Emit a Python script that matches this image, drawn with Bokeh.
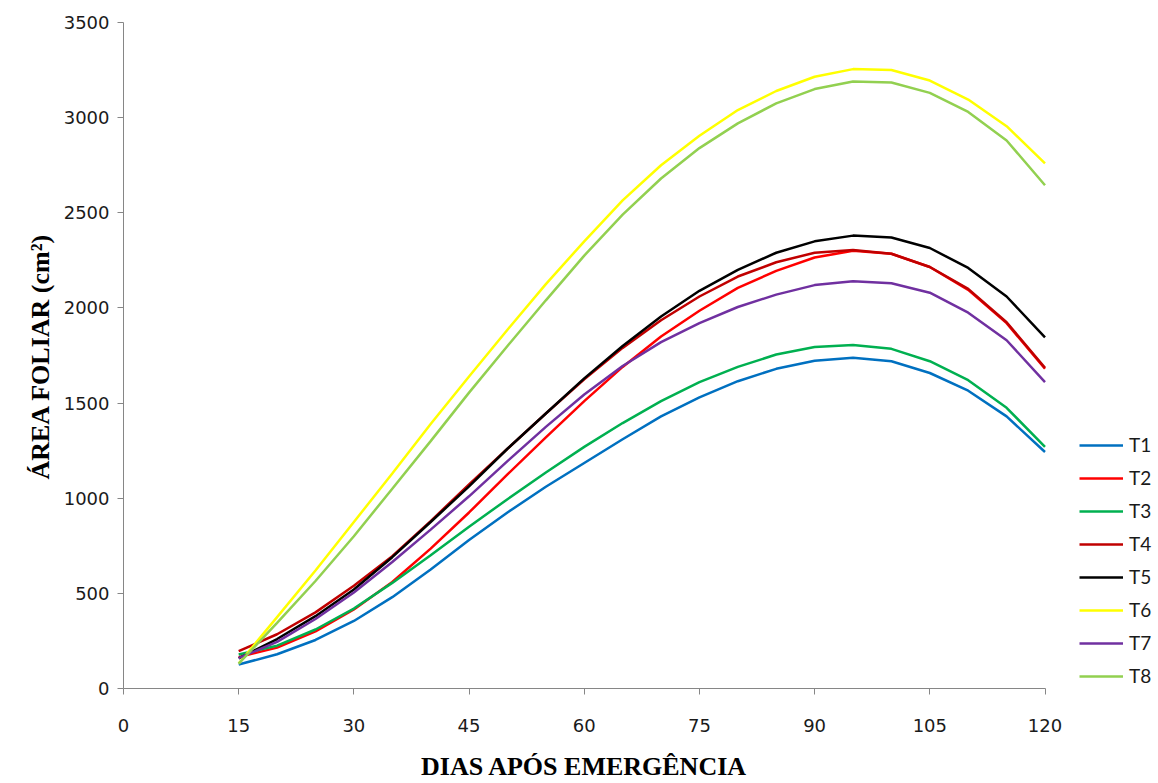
import math
from bokeh.plotting import figure
from bokeh.models import Range1d, FixedTicker, Legend, LegendItem, Label
from bokeh.embed import file_html
from bokeh.resources import INLINE

# ---- data ----
days = [15, 20, 25, 30, 35, 40, 45, 50, 55, 60, 65, 70, 75, 80, 85, 90, 95, 100, 105, 110, 115, 120]

T1 = [126, 180, 255, 355, 480, 625, 780, 925, 1060, 1185, 1310, 1430, 1530, 1615, 1680, 1722, 1738, 1720, 1658, 1565, 1430, 1243]
T2 = [165, 215, 300, 415, 560, 735, 925, 1125, 1320, 1510, 1690, 1850, 1985, 2105, 2195, 2265, 2300, 2285, 2215, 2095, 1920, 1680]
T3 = [179, 225, 310, 420, 555, 700, 850, 995, 1135, 1270, 1395, 1510, 1610, 1690, 1755, 1795, 1805, 1785, 1720, 1620, 1475, 1270]
T4 = [196, 285, 400, 540, 695, 880, 1072, 1260, 1445, 1625, 1790, 1935, 2060, 2165, 2240, 2290, 2305, 2285, 2215, 2100, 1925, 1685]
T5 = [158, 260, 380, 520, 690, 875, 1062, 1260, 1445, 1630, 1800, 1955, 2090, 2200, 2290, 2350, 2380, 2370, 2315, 2210, 2060, 1845]
T6 = [131, 375, 620, 875, 1130, 1390, 1640, 1885, 2125, 2350, 2565, 2750, 2905, 3040, 3140, 3215, 3255, 3250, 3195, 3095, 2955, 2760]
T7 = [160, 245, 365, 505, 665, 835, 1010, 1195, 1375, 1545, 1695, 1820, 1920, 2005, 2070, 2120, 2140, 2130, 2080, 1975, 1830, 1610]
T8 = [131, 345, 565, 800, 1050, 1300, 1555, 1800, 2040, 2275, 2490, 2680, 2840, 2970, 3075, 3150, 3190, 3185, 3130, 3030, 2880, 2645]

series_names = ["T1", "T2", "T3", "T4", "T5", "T6", "T7", "T8"]
series_values = [T1, T2, T3, T4, T5, T6, T7, T8]
series_colors = ["#0070C0", "#FF0000", "#00B050", "#C00000", "#000000", "#FFFF00", "#7030A0", "#92D050"]

x_ticks = [0, 15, 30, 45, 60, 75, 90, 105, 120]
y_ticks = [0, 500, 1000, 1500, 2000, 2500, 3000, 3500]

x_title = "DIAS APÓS EMERGÊNCIA"
y_title = "ÁREA FOLIAR (cm²)"

# ---- layout geometry (pixels) ----
W, H = 1158, 783
axis_x0_px = 123.0            # canvas column of x = 0
axis_y0_px = 688.0            # canvas row of y = 0
axis_x_len_px = 921.5         # pixel length of the 0..120 day axis
axis_y_len_px = 666.0         # pixel length of the 0..3500 area axis
x_end, y_end = 120, 3500
x_per_px = x_end / axis_x_len_px
y_per_px = y_end / axis_y_len_px

# the frame covers the whole canvas; axes are pinned at x = 0 and y = 0
x_min = -axis_x0_px * x_per_px
x_max = (W - axis_x0_px) * x_per_px
y_min = -(H - axis_y0_px) * y_per_px
y_max = axis_y0_px * y_per_px

def sx(px):  # canvas column -> data x
    return (px - axis_x0_px) * x_per_px

def sy(py):  # canvas row -> data y
    return (axis_y0_px - py) * y_per_px

p = figure(width=W, height=H, output_backend="svg", toolbar_location=None,
           x_range=Range1d(x_min, x_max), y_range=Range1d(y_min, y_max),
           min_border_left=0, min_border_right=0, min_border_top=0, min_border_bottom=0)
p.outline_line_color = None
p.xgrid.visible = False
p.ygrid.visible = False
p.background_fill_color = "white"
p.border_fill_color = "white"

axis_gray = "#868686"
for ax in (p.xaxis, p.yaxis):
    ax.axis_line_color = axis_gray
    ax.major_tick_line_color = axis_gray
    ax.major_tick_out = 6
    ax.major_tick_in = 0
    ax.minor_tick_out = 0
    ax.minor_tick_in = 0
    ax.major_label_text_font = "DejaVu Sans"
    ax.major_label_text_font_size = "18px"
    ax.major_label_text_color = "#1a1a1a"

p.xaxis.ticker = FixedTicker(ticks=x_ticks)
p.yaxis.ticker = FixedTicker(ticks=y_ticks)
p.xaxis.bounds = (0, x_end)
p.yaxis.bounds = (0, y_end)
p.xaxis.fixed_location = 0
p.yaxis.fixed_location = 0
p.xaxis.major_label_standoff = 24
p.yaxis.major_label_standoff = 8

# y-axis title (rotated), centred on the 0..3500 axis
yt = Label(x=sx(40), y=sy(356), text=y_title, angle=math.pi / 2,
           text_align="center", text_baseline="middle",
           text_font="Liberation Serif", text_font_style="bold", text_font_size="26px",
           text_color="black")
p.add_layout(yt)

# x-axis title, centred under the 0..120 axis
xt = Label(x=x_end / 2, y=sy(766), text=x_title,
           text_align="center", text_baseline="alphabetic",
           text_font="Liberation Serif", text_font_style="bold", text_font_size="26px",
           text_color="black")
p.add_layout(xt)

renderers = []
for name, vals, col in zip(series_names, series_values, series_colors):
    r = p.line(days, vals, line_color=col, line_width=2.5)
    renderers.append(r)

items = [LegendItem(label=n, renderers=[r]) for n, r in zip(series_names, renderers)]
legend = Legend(items=items, location=(1079, 96), glyph_width=44, glyph_height=20,
                label_height=20, spacing=10, padding=0, margin=0,
                border_line_color=None, background_fill_alpha=0,
                label_text_font="Lato", label_text_font_size="19px",
                label_standoff=6, label_text_color="#1a1a1a")
p.add_layout(legend)

open("out.html", "w").write(file_html(p, INLINE))
